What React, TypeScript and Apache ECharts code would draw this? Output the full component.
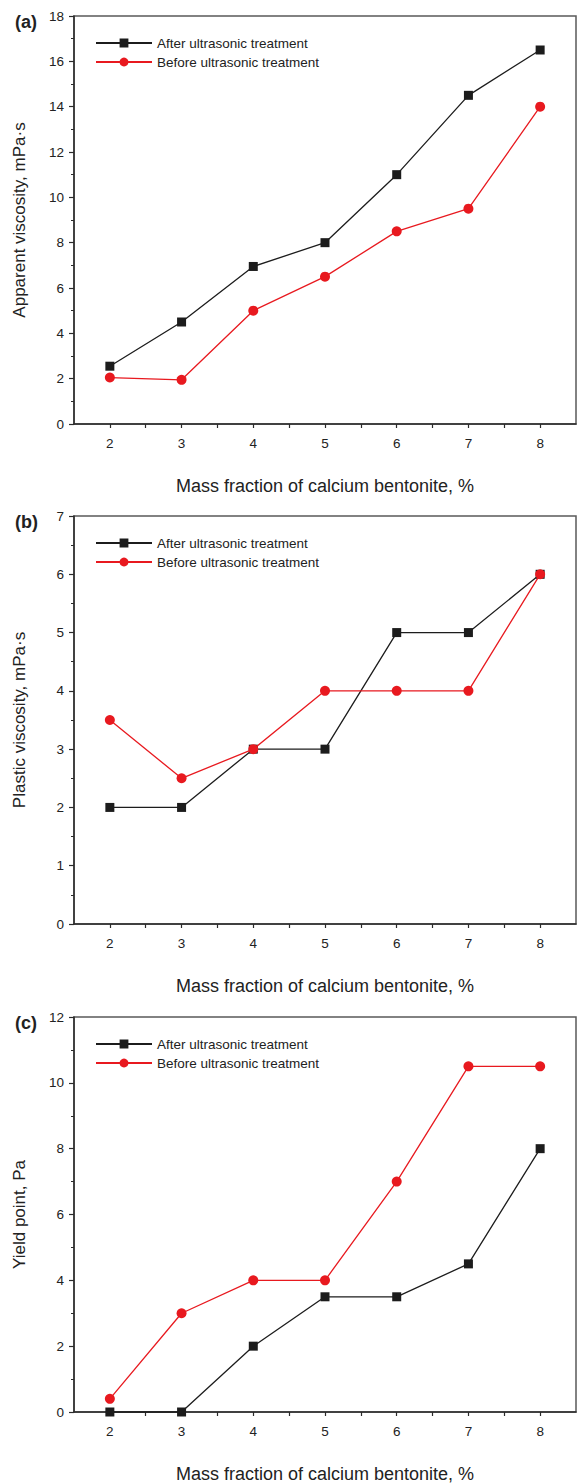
import React, { useEffect, useRef } from "react";
import * as echarts from "echarts";

// Mass fraction of calcium bentonite, %
const fractions = [2, 3, 4, 5, 6, 7, 8];

// (a) Apparent viscosity, mPa·s
const apparentAfter = [2.55, 4.5, 6.95, 8, 11, 14.5, 16.5];
const apparentBefore = [2.05, 1.95, 5, 6.5, 8.5, 9.5, 14];

// (b) Plastic viscosity, mPa·s
const plasticAfter = [2, 2, 3, 3, 5, 5, 6];
const plasticBefore = [3.5, 2.5, 3, 4, 4, 4, 6];

// (c) Yield point, Pa
const yieldAfter = [0, 0, 2, 3.5, 3.5, 4.5, 8];
const yieldBefore = [0.4, 3, 4, 4, 7, 10.5, 10.5];

const AFTER = "After ultrasonic treatment";
const BEFORE = "Before ultrasonic treatment";
const X_NAME = "Mass fraction of calcium bentonite, %";

const panels = [
  { tag: "(a)", yName: "Apparent viscosity, mPa·s", yMax: 18, yStep: 2, after: apparentAfter, before: apparentBefore, top: 16 },
  { tag: "(b)", yName: "Plastic viscosity, mPa·s", yMax: 7, yStep: 1, after: plasticAfter, before: plasticBefore, top: 516 },
  { tag: "(c)", yName: "Yield point, Pa", yMax: 12, yStep: 2, after: yieldAfter, before: yieldBefore, top: 1017 },
];

const FONT = "'Liberation Sans', Arial, sans-serif";
const BLACK = "#1c1c1c";
const RED = "#e8191f";
const AXIS = "#2b2b2b";
const TEXT = "#222";
const PLOT_H = 408;

export default function App() {
  const ref = useRef<HTMLDivElement>(null);

  useEffect(() => {
    if (!ref.current) return;
    const chart = echarts.init(ref.current, null, { renderer: "svg" });

    const grids: any[] = [];
    const xAxes: any[] = [];
    const yAxes: any[] = [];
    const series: any[] = [];
    const legends: any[] = [];
    const titles: any[] = [];

    panels.forEach((p, i) => {
      grids.push({
        left: 74,
        top: p.top,
        width: 502,
        height: PLOT_H,
        show: true,
        borderColor: "#5a5a5a",
        borderWidth: 1.5,
        backgroundColor: "transparent",
      });
      xAxes.push({
        type: "value",
        gridIndex: i,
        min: 1.5,
        max: 8.5,
        interval: 0.5,
        name: X_NAME,
        nameLocation: "middle",
        nameGap: 53,
        nameTextStyle: { fontFamily: FONT, fontSize: 18, color: TEXT },
        axisLine: { onZero: false, lineStyle: { color: AXIS, width: 1.5 } },
        axisTick: { show: true, inside: false, length: 4, lineStyle: { color: AXIS, width: 1.2 } },
        axisLabel: {
          margin: 12,
          fontFamily: FONT,
          fontSize: 13.5,
          color: TEXT,
          showMinLabel: false,
          showMaxLabel: false,
          formatter: (v: number) => (Number.isInteger(v) ? String(v) : ""),
        },
        splitLine: { show: false },
      });
      yAxes.push({
        type: "value",
        gridIndex: i,
        min: 0,
        max: p.yMax,
        interval: p.yStep,
        name: p.yName,
        nameLocation: "middle",
        nameGap: 46,
        nameTextStyle: { fontFamily: FONT, fontSize: 17, color: TEXT },
        axisLine: { show: true, lineStyle: { color: AXIS, width: 1.5 } },
        axisTick: { show: true, inside: false, length: 5, lineStyle: { color: AXIS, width: 1.2 } },
        minorTick: { show: true, splitNumber: 2, length: 3, lineStyle: { color: AXIS, width: 1 } },
        axisLabel: { margin: 10, fontFamily: FONT, fontSize: 13.5, color: TEXT },
        splitLine: { show: false },
        minorSplitLine: { show: false },
      });
      series.push({
        name: AFTER,
        type: "line",
        xAxisIndex: i,
        yAxisIndex: i,
        data: fractions.map((f, k) => [f, p.after[k]]),
        symbol: "rect",
        symbolSize: 9,
        clip: false,
        itemStyle: { color: BLACK },
        lineStyle: { color: BLACK, width: 1.3 },
        z: 2,
      });
      series.push({
        name: BEFORE,
        type: "line",
        xAxisIndex: i,
        yAxisIndex: i,
        data: fractions.map((f, k) => [f, p.before[k]]),
        symbol: "circle",
        symbolSize: 10,
        clip: false,
        itemStyle: { color: RED },
        lineStyle: { color: RED, width: 1.3 },
        z: 3,
      });
      legends.push({
        left: 95,
        top: p.top + 20,
        padding: 0,
        orient: "vertical",
        itemWidth: 56,
        itemHeight: 11,
        itemGap: 5,
        selectedMode: false,
        data: [AFTER, BEFORE],
        textStyle: { fontFamily: FONT, fontSize: 13.5, color: TEXT },
      });
      titles.push({
        text: p.tag,
        left: 10,
        top: p.top - 8,
        textStyle: { fontFamily: FONT, fontSize: 18, fontWeight: "bold", color: TEXT },
      });
    });

    chart.setOption({
      animation: false,
      backgroundColor: "#ffffff",
      title: titles,
      legend: legends,
      grid: grids,
      xAxis: xAxes,
      yAxis: yAxes,
      series,
    });

    return () => chart.dispose();
  }, []);

  return (
    <div
      ref={ref}
      style={{ position: "absolute", left: 0, top: 0, width: 577, height: 1484, background: "#fff" }}
    />
  );
}
